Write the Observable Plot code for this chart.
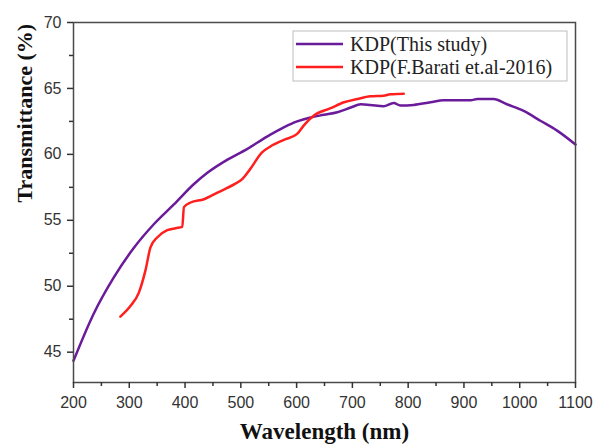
<!DOCTYPE html>
<html>
<head>
<meta charset="utf-8">
<script src="https://cdn.jsdelivr.net/npm/d3@7"></script>
<script src="https://cdn.jsdelivr.net/npm/@observablehq/plot@0.6"></script>
<style>
  html, body { margin: 0; padding: 0; background: #fff; }
  #chart { position: relative; width: 597px; height: 445px; }
</style>
</head>
<body>
<div id="chart"></div>
<script>
// ---- data ----
const seriesNames = ["KDP(This study)", "KDP(F.Barati et.al-2016)"];
const seriesColors = ["#6a1b9a", "#ff1f1f"];

const studyWavelength = [200, 236, 272, 308, 344, 380, 416, 440, 476, 511, 547, 577, 601, 625, 649, 673, 697, 715, 732, 756, 774, 786, 810, 840, 864, 888, 912, 924, 953, 977, 1007, 1037, 1067, 1100];
const studyTransmittance = [44.35, 47.9, 50.65, 52.9, 54.7, 56.2, 57.75, 58.6, 59.6, 60.4, 61.35, 62.05, 62.5, 62.8, 63.0, 63.2, 63.55, 63.8, 63.75, 63.65, 63.9, 63.7, 63.75, 63.95, 64.1, 64.1, 64.1, 64.2, 64.2, 63.8, 63.3, 62.55, 61.8, 60.75];

const baratiWavelength = [284, 302, 317, 329, 338, 350, 368, 383, 395, 398, 410, 434, 458, 487, 502, 517, 538, 553, 577, 601, 613, 631, 661, 685, 709, 732, 756, 768, 792];
const baratiTransmittance = [47.7, 48.5, 49.5, 51.2, 52.95, 53.7, 54.25, 54.4, 54.5, 56.0, 56.35, 56.6, 57.1, 57.7, 58.1, 58.9, 60.15, 60.6, 61.1, 61.55, 62.2, 62.95, 63.5, 63.95, 64.2, 64.4, 64.45, 64.55, 64.6];

const xMajorTicks = [200, 300, 400, 500, 600, 700, 800, 900, 1000, 1100];
const xMinorTicks = [250, 350, 450, 550, 650, 750, 850, 950, 1050];
const yMajorTicks = [45, 50, 55, 60, 65, 70];
const yMinorTicks = [47.5, 52.5, 57.5, 62.5, 67.5];

const xLabel = "Wavelength (nm)";
const yLabel = "Transmittance (%)";

// ---- build tables ----
const study = studyWavelength.map((x, i) => ({x, y: studyTransmittance[i]}));
const barati = baratiWavelength.map((x, i) => ({x, y: baratiTransmittance[i]}));

const serif = "'Liberation Serif', 'Times New Roman', serif";

const plot = Plot.plot({
  width: 597,
  height: 445,
  marginLeft: 73,
  marginRight: 22,
  marginTop: 22,
  marginBottom: 63,
  style: {fontFamily: "'Liberation Sans', Arial, sans-serif", fontSize: "16px", color: "#333", background: "#fff"},
  x: {domain: [200, 1100], label: null},
  y: {domain: [42.7, 70], label: null},
  marks: [
    Plot.line(study, {x: "x", y: "y", stroke: seriesColors[0], strokeWidth: 2.5, curve: "monotone-x"}),
    Plot.line(barati, {x: "x", y: "y", stroke: seriesColors[1], strokeWidth: 2.5, curve: "monotone-x"}),
    Plot.frame({stroke: "#4a4a4a", strokeWidth: 1.5}),
    Plot.axisX({ticks: xMajorTicks, tickSize: 6, tickPadding: 8, strokeWidth: 1.5, label: null, fontSize: 16, tickFormat: d3.format("d")}),
    Plot.axisX({ticks: xMinorTicks, tickSize: 4, tickFormat: () => "", strokeWidth: 1.5, label: null}),
    Plot.axisY({ticks: yMajorTicks, tickSize: 6, tickPadding: 6, strokeWidth: 1.5, label: null, fontSize: 16}),
    Plot.axisY({ticks: yMinorTicks, tickSize: 4, tickFormat: () => "", strokeWidth: 1.5, label: null}),
    Plot.text([xLabel], {text: d => d, frameAnchor: "bottom", dy: 49, fontFamily: serif, fontWeight: "bold", fontSize: 23, fill: "#111", lineAnchor: "middle"}),
    Plot.text([yLabel], {text: d => d, frameAnchor: "left", dx: -49, rotate: -90, fontFamily: serif, fontWeight: "bold", fontSize: 22, fill: "#111", lineAnchor: "middle"})
  ]
});

document.getElementById("chart").appendChild(plot);

// ---- legend (boxed, top right inside the frame) ----
const svg = d3.select(plot);
const lg = svg.append("g").attr("transform", "translate(293,31)").attr("text-anchor", "start");
lg.append("rect").attr("width", 274).attr("height", 50)
  .attr("fill", "#fff").attr("stroke", "#bdbdbd").attr("stroke-width", 1);
seriesNames.forEach((name, i) => {
  const cy = 13 + i * 23;
  lg.append("line").attr("x1", 3).attr("x2", 50).attr("y1", cy).attr("y2", cy)
    .attr("stroke", seriesColors[i]).attr("stroke-width", 2.5);
  lg.append("text").attr("x", 57).attr("y", cy).attr("dy", "0.35em")
    .attr("text-anchor", "start")
    .attr("font-family", serif).attr("font-size", 20).attr("fill", "#222")
    .text(name);
});
</script>
</body>
</html>
